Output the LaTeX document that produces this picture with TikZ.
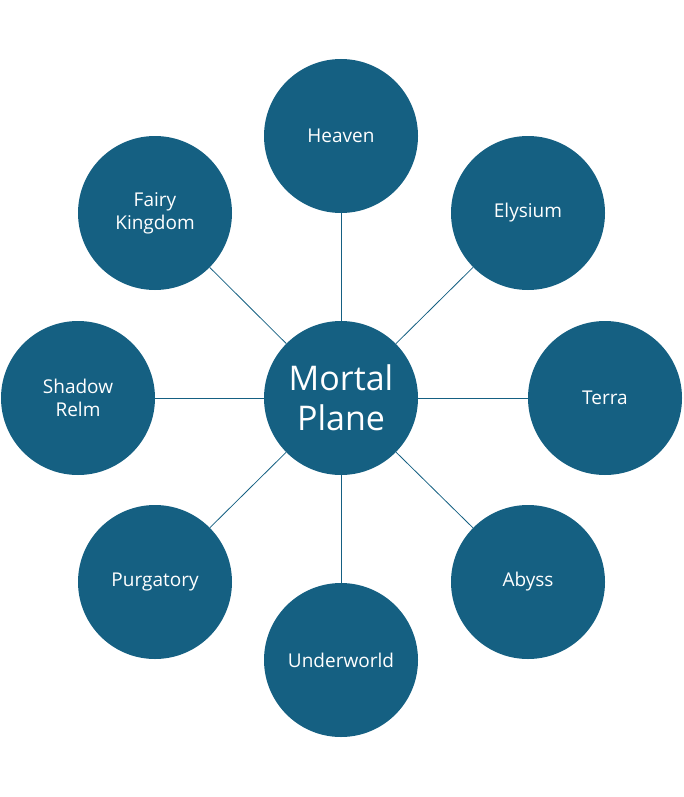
\documentclass[tikz,border=0pt]{standalone}
\usepackage{fontspec}
\setmainfont{Open Sans}
\definecolor{realm}{HTML}{156082}
\begin{document}
\begin{tikzpicture}[x=1pt,y=-1pt,
  realmnode/.style={circle,fill=realm,minimum size=154pt,inner sep=0pt,text=white,align=center,font=\fontsize{19}{23}\selectfont},
  hubnode/.style={realmnode,font=\fontsize{34}{40}\selectfont},
  link/.style={draw=realm,line width=0.8pt}]
\useasboundingbox (0,0) rectangle (683,797);
\node[hubnode] (c) at (341,398) {Mortal\\Plane};
\node[realmnode] (h) at (341,136) {Heaven};
\node[realmnode] (e) at (528,213) {Elysium};
\node[realmnode] (t) at (605,398) {Terra};
\node[realmnode] (a) at (528,582) {Abyss};
\node[realmnode] (u) at (341,660) {Underworld};
\node[realmnode] (p) at (155,582) {Purgatory};
\node[realmnode] (s) at (78,398) {Shadow\\Relm};
\node[realmnode] (f) at (155,213) {Fairy\\Kingdom};
\foreach \n in {h,e,t,a,u,p,s,f} \draw[link] (c) -- (\n);
\end{tikzpicture}
\end{document}
